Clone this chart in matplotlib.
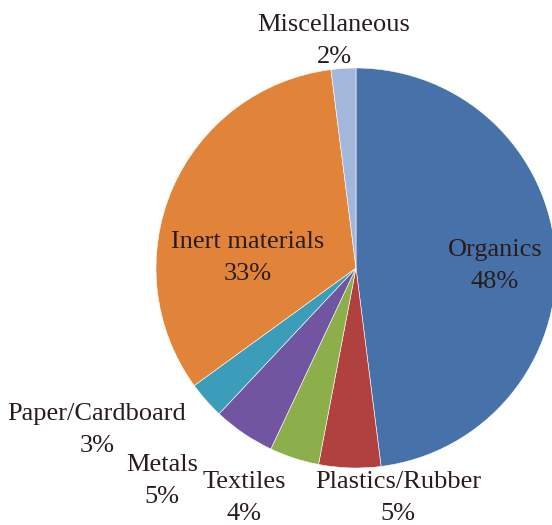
import matplotlib.pyplot as plt

# Waste composition data
categories = ['Organics', 'Plastics/Rubber', 'Textiles', 'Metals',
              'Paper/Cardboard', 'Inert materials', 'Miscellaneous']
shares = [48, 5, 4, 5, 3, 33, 2]
colors = ['#4672A9', '#B0413E', '#8CAF4C', '#7155A0',
          '#3C9DBB', '#E1843A', '#A3B7DB']

# label centres in pixel coordinates (x, y from top)
label_pos = [(495, 266), (398, 498), (244, 498), (162, 481),
             (97, 430), (248, 258), (334, 41)]

plt.rcParams['font.family'] = ['Liberation Serif', 'DejaVu Serif']

fig = plt.figure(figsize=(5.52, 5.25), dpi=100)
ax = fig.add_axes([0, 0, 1, 1])

ax.pie(shares, colors=colors, startangle=90, counterclock=False,
       center=(356, 525 - 268), radius=200,
       wedgeprops={'edgecolor': 'white', 'linewidth': 0.4})

ax.set_xlim(0, 552)
ax.set_ylim(0, 525)
ax.set_aspect('auto')
ax.axis('off')

for name, val, (x, y) in zip(categories, shares, label_pos):
    ax.text(x, 525 - y, f'{name}\n{val}%', ha='center', va='center',
            fontsize=19, color='#2a1c1c', linespacing=1.55)

fig.savefig('out.png', dpi=100)
